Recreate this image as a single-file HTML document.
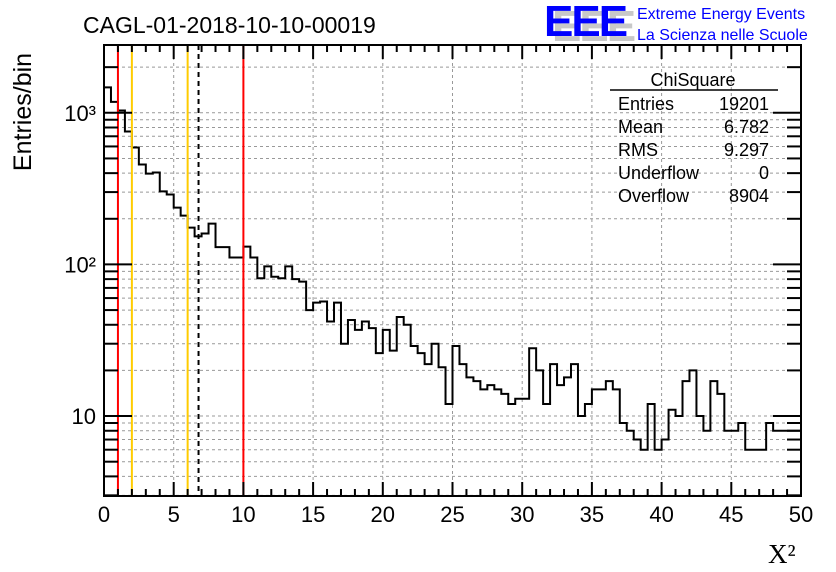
<!DOCTYPE html>
<html><head><meta charset="utf-8"><style>
body{margin:0;background:#fff;width:836px;height:572px;overflow:hidden}
svg{display:block;font-family:"Liberation Sans",sans-serif}
</style></head><body>
<svg id="c" width="836" height="572"></svg>
<script>
const binValues=[1470,1180,1035,753,590,456,397,404,303,289,237,210,175,153,160,186,130,130,111,111,131,111,81,97,83,81,97,80,77,50,56,57,42,56,30,43,37,42,38,26,37,27,45,40,29,26,22,30,21,12,29,22,18,17,15,16,15,14,12,13,13,28,20,12,22,16,18,22,10,12,15,15,17,15,9,8,7,6,12,6,7,11,10,17,20,10,8,17,14,8,8,9,6,6,6,9,8,8,8,8];
const xMin=0,xMax=50,binWidth=0.5;
const xTicks=[0,5,10,15,20,25,30,35,40,45,50];
const yMajor=[10,100,1000];
const yMajorLabels=["10","10²","10³"];
const cutLines=[{v:1,c:"#ff0000",n:"cut-line-1"},{v:2,c:"#ffcc00",n:"cut-line-2"},{v:6,c:"#ffcc00",n:"cut-line-6"},{v:10,c:"#ff0000",n:"cut-line-10"}];
const meanValue=6.782;
const statsRows=[["Entries","19201"],["Mean","6.782"],["RMS","9.297"],["Underflow","0"],["Overflow","8904"]];

const L=104,R=801,T=45,B=496,yLo=Math.log10(2.97),yHi=Math.log10(2800);
const X=v=>L+(v-xMin)/(xMax-xMin)*(R-L);
const Y=v=>B-(Math.log10(v)-yLo)/(yHi-yLo)*(B-T);
const svg=document.getElementById('c');
const NS="http://www.w3.org/2000/svg";
function mk(tag,attrs,parent){const e=document.createElementNS(NS,tag);for(const k in attrs)e.setAttribute(k,attrs[k]);(parent||svg).appendChild(e);return e;}

// grid
const grid=mk('g',{});


xTicks.forEach(t=>{if(t>xMin&&t<xMax)mk('line',{x1:X(t),x2:X(t),y1:T,y2:B,stroke:'#999','stroke-dasharray':'3,3','stroke-width':1},grid);});
for(let d=0;d<=3;d++)for(let m=1;m<=9;m++){const v=m*Math.pow(10,d);if(v<2.97||v>2800)continue;const y=Y(v);mk('line',{x1:L,x2:R,y1:y,y2:y,stroke:'#999','stroke-dasharray':'3,3','stroke-width':1},grid);}

// histogram
let d=`M${X(0)},${B}`;
binValues.forEach((v,i)=>{const y=Y(Math.max(v,2.97));d+=` L${X(i*binWidth)},${y} L${X((i+1)*binWidth)},${y}`;});
const h=mk('path',{d:d,fill:'none',stroke:'#000','stroke-width':2});



// cut lines
cutLines.forEach(c=>{const l=mk('line',{x1:X(c.v),x2:X(c.v),y1:T,y2:B,stroke:c.c,'stroke-width':2});

});
const ml=mk('line',{x1:X(meanValue),x2:X(meanValue),y1:T,y2:B,stroke:'#000','stroke-width':2,'stroke-dasharray':'5,4'});



// frame
const fr=mk('rect',{x:L,y:T,width:R-L,height:B-T,fill:'none',stroke:'#000','stroke-width':2});



// x ticks
const xa=mk('g',{});


for(let t=xMin;t<=xMax;t++){const big=t%5===0;const len=big?14:7;
mk('line',{x1:X(t),x2:X(t),y1:B,y2:B-len,stroke:'#000','stroke-width':2},xa);
mk('line',{x1:X(t),x2:X(t),y1:T,y2:T+len,stroke:'#000','stroke-width':2},xa);}
xTicks.forEach(t=>{const tx=mk('text',{x:X(t),y:522,'font-size':22,'text-anchor':'middle'},xa);tx.textContent=t;

});

// y ticks
const ya=mk('g',{});


for(let dd=0;dd<=3;dd++)for(let m=1;m<=9;m++){const v=m*Math.pow(10,dd);if(v<2.97||v>2800)continue;const y=Y(v);const len=m===1?28:14;
mk('line',{x1:L,x2:L+len,y1:y,y2:y,stroke:'#000','stroke-width':2},ya);
mk('line',{x1:R,x2:R-len,y1:y,y2:y,stroke:'#000','stroke-width':2},ya);}
yMajor.forEach((v,i)=>{const tx=mk('text',{x:96,y:Y(v)+8,'font-size':22,'text-anchor':'end'},ya);tx.textContent=yMajorLabels[i];

});

// titles
let t=mk('text',{x:83,y:33,'font-size':23});t.textContent="CAGL-01-2018-10-10-00019";


t=mk('text',{x:0,y:0,'font-size':25,'text-anchor':'middle',transform:'translate(31,112) rotate(-90)'});t.textContent="Entries/bin";


t=mk('text',{x:768,y:563,'font-size':27,'font-family':'Liberation Serif, serif'});t.textContent="X²";



// logo
const lg=mk('g',{});


mk('text',{x:552,y:41,'font-size':44,'font-weight':'bold',fill:'#c8c8c8','letter-spacing':'-2'},lg).textContent="EEE";
mk('text',{x:544,y:36,'font-size':44,'font-weight':'bold',fill:'#0000ff','letter-spacing':'-2'},lg).textContent="EEE";
mk('text',{x:637,y:19,'font-size':16,fill:'#0000ff'},lg).textContent="Extreme Energy Events";
mk('text',{x:637,y:40,'font-size':16,fill:'#0000ff'},lg).textContent="La Scienza nelle Scuole";

// stats box
const sb=mk('g',{});


mk('text',{x:693,y:86,'font-size':18,'text-anchor':'middle'},sb).textContent="ChiSquare";
mk('line',{x1:610,x2:778,y1:90,y2:90,stroke:'#000','stroke-width':1.5},sb);
statsRows.forEach((r,i)=>{const y=110+i*23;
mk('text',{x:618,y:y,'font-size':18},sb).textContent=r[0];
mk('text',{x:769,y:y,'font-size':18,'text-anchor':'end'},sb).textContent=r[1];});
</script>
</body></html>
